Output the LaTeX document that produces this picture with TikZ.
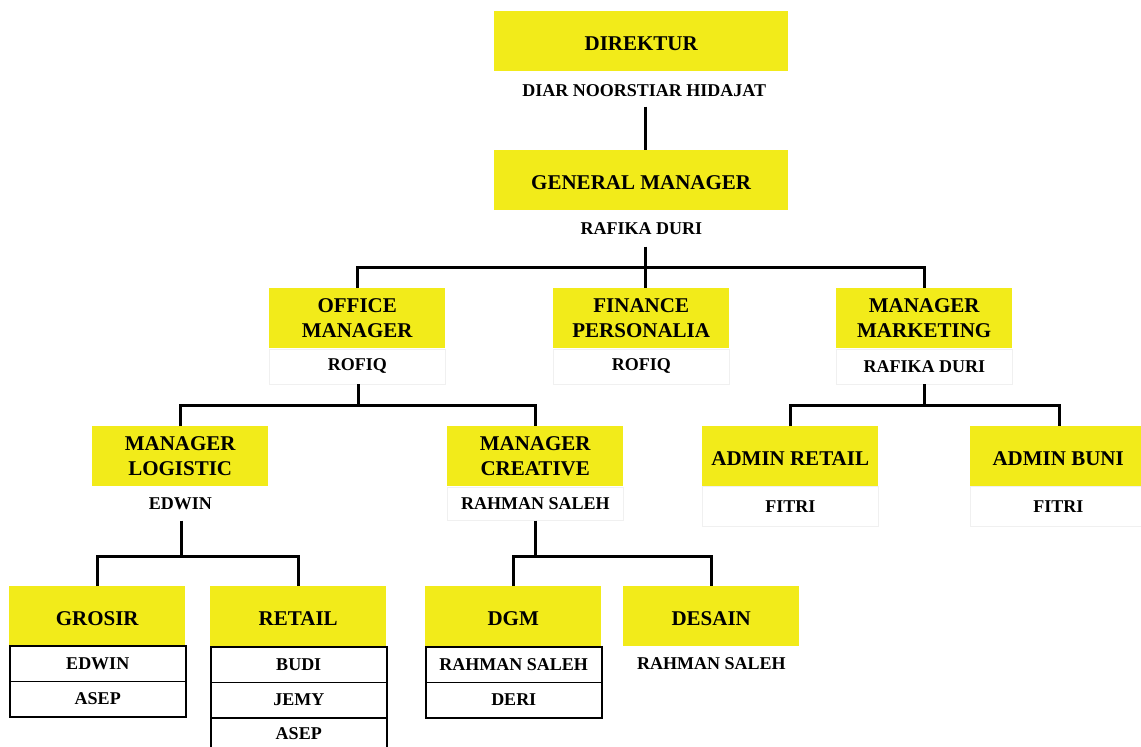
\documentclass[tikz,border=0pt]{standalone}
\usepackage{fontspec}
\setmainfont{Liberation Serif}
\definecolor{myyellow}{RGB}{242,235,26}
\definecolor{faint}{RGB}{240,240,240}
\begin{document}
\begin{tikzpicture}[x=1pt,y=-1pt,
  titlebox/.style={fill=myyellow, minimum width=176pt, minimum height=60pt, inner sep=0pt, align=center, anchor=north west, font=\bfseries\fontsize{21}{25}\selectfont},
  oneline/.style={text height=19pt, text depth=0pt},
  widebox/.style={titlebox, oneline, minimum width=294pt},
  namebox/.style={draw=faint, line width=0.6pt, minimum width=176pt, minimum height=35pt, inner sep=0pt, anchor=north west, font=\bfseries\fontsize{18}{20}\selectfont},
  widename/.style={namebox, minimum width=294pt},
  cellbox/.style={draw=black, line width=1.5pt, minimum width=176pt, minimum height=35.5pt, inner sep=0pt, anchor=north west, font=\bfseries\fontsize{18}{20}\selectfont},
  conn/.style={draw=black, line width=3pt}]
\clip (0,0) rectangle (1141,747);
\fill[white] (0,0) rectangle (1141,747);

% level 0/1
\node[widebox] (dir) at (494,11) {DIREKTUR};
\node[widename, draw=none, minimum height=31pt, xshift=3pt] (dirn) at (494,75) {DIAR NOORSTIAR HIDAJAT};
\node[widebox] (gm) at (494,150) {GENERAL MANAGER};
\node[widename, draw=none] (gmn) at (494,211) {RAFIKA DURI};

% level 2
\node[titlebox] (om) at (269,288) {OFFICE\\MANAGER};
\node[namebox] (omn) at (269,348.5) {ROFIQ};
\node[titlebox] (fp) at (553,288) {FINANCE\\PERSONALIA};
\node[namebox] (fpn) at (553,348.5) {ROFIQ};
\node[titlebox] (mm) at (836,288) {MANAGER\\MARKETING};
\node[namebox] (mmn) at (836,348.5) {RAFIKA DURI};

% level 3
\node[titlebox] (ml) at (92,426) {MANAGER\\LOGISTIC};
\node[namebox, draw=none, minimum height=33pt] (mln) at (92,487) {EDWIN};
\node[titlebox] (mc) at (447,426) {MANAGER\\CREATIVE};
\node[namebox, minimum height=33pt] (mcn) at (447,487) {RAHMAN SALEH};
\node[titlebox, oneline] (ar) at (702,426) {ADMIN RETAIL};
\node[namebox, minimum height=40pt] (arn) at (702,486) {FITRI};
\node[titlebox, oneline] (ab) at (970,426) {ADMIN BUNI};
\node[namebox, minimum height=40pt] (abn) at (970,486) {FITRI};

% level 4
\node[titlebox, oneline] (gr) at (9,586) {GROSIR};
\node[cellbox] (gr1) at (9,645) {EDWIN};
\node[cellbox] (gr2) at (9,680.5) {ASEP};
\node[titlebox, oneline] (rt) at (210,586) {RETAIL};
\node[cellbox] (rt1) at (210,646) {BUDI};
\node[cellbox] (rt2) at (210,681.5) {JEMY};
\node[cellbox, minimum height=40pt, text depth=8pt] (rt3) at (210,717) {ASEP};
\node[titlebox, oneline] (dg) at (425,586) {DGM};
\node[cellbox] (dg1) at (425,646) {RAHMAN SALEH};
\node[cellbox] (dg2) at (425,681.5) {DERI};
\node[titlebox, oneline] (ds) at (623,586) {DESAIN};
\node[namebox, draw=none] (dsn) at (623,646) {RAHMAN SALEH};

% connectors
\coordinate (b0) at (645,150);
\draw[conn] (b0 |- dirn.south) -- (b0);
\coordinate (b1) at (645,267);
\draw[conn] (b1 |- gmn.south) -- (b1);
\draw[conn] (om.north) |- (b1) -| (mm.north);
\draw[conn] (b1) -- (b1 |- fp.north);

\coordinate (b2) at (358,405);
\draw[conn] (b2 |- omn.south) -- (b2);
\draw[conn] (ml.north) |- (b2) -| (mc.north);

\coordinate (b3) at (924,405);
\draw[conn] (b3 |- mmn.south) -- (b3);
\coordinate (abt) at (1059,426);
\draw[conn] (ar.north) |- (b3) -| (abt);

\coordinate (b4) at (181,556);
\draw[conn] (b4 |- mln.south) -- (b4);
\coordinate (grt) at (97,586);
\coordinate (rtt) at (298,586);
\draw[conn] (grt) |- (b4) -| (rtt);

\coordinate (b5) at (535,556);
\draw[conn] (b5 |- mcn.south) -- (b5);
\coordinate (dgt) at (513,586);
\coordinate (dst) at (711,586);
\draw[conn] (dgt) |- (b5) -| (dst);
\end{tikzpicture}
\end{document}
